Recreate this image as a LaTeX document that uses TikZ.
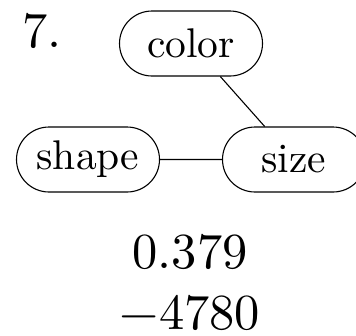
\documentclass[tikz,border=0pt]{standalone}
\usetikzlibrary{shapes.misc}
\newcommand{\lblsc}[1]{\scalebox{4.15}{#1}}
\newcommand{\numsc}[1]{\scalebox{5.05}{#1}}
\begin{document}
\begin{tikzpicture}[x=1pt,y=-1pt,
  num/.style={inner sep=0pt, anchor=base},
  pill/.style={draw, line width=1.1pt, rounded rectangle, minimum height=65pt, minimum width=143pt, inner sep=0pt},
  edge/.style={line width=1.1pt}]
\useasboundingbox (0,0) rectangle (356,335);
\node[inner sep=0pt, anchor=base west] (seven) at (22,47) {\numsc{7.}};
\node[pill] (color) at (191,43.5) {\lblsc{color}};
\node[pill] (shape) at (88,159.5) {\lblsc{shape}};
\node[pill] (size) at (294,159.5) {\lblsc{size}};
\draw[edge] (color) -- (size);
\draw[edge] (shape) -- (size);
\node[num] (n1) at (190,268) {\numsc{0.379}};
\node[num] (n2) at (190,329) {\numsc{−4780}};
\end{tikzpicture}
\end{document}
